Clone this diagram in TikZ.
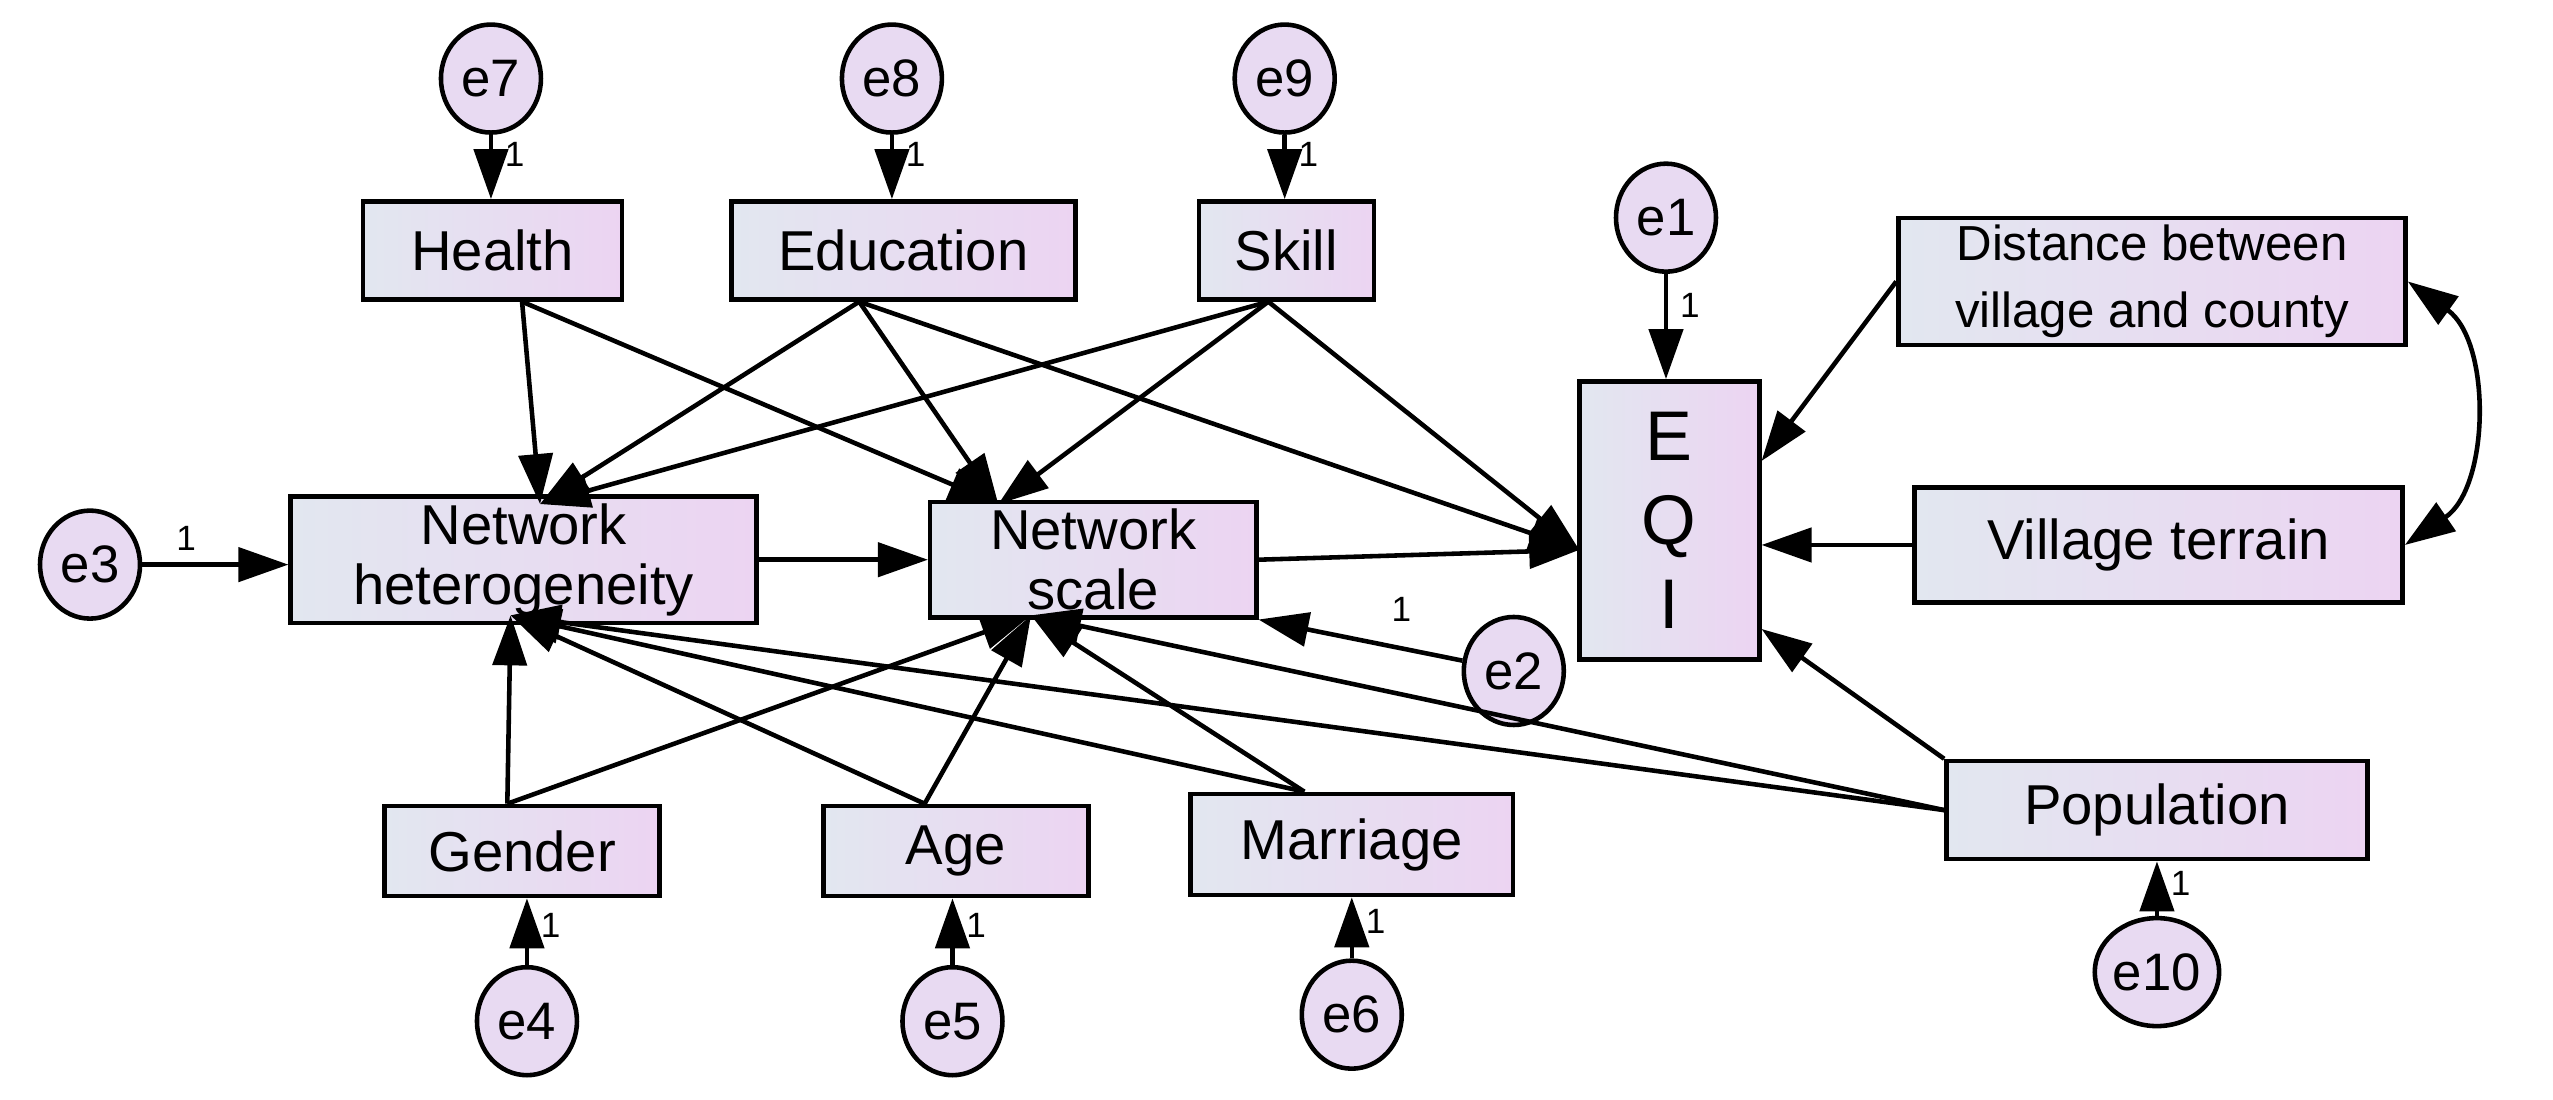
\documentclass[tikz,border=0pt]{standalone}
\usepackage{fontspec}
\setmainfont{Liberation Sans}
\usetikzlibrary{shapes.geometric, arrows.meta}
\definecolor{boxleft}{RGB}{226,231,240}
\definecolor{boxright}{RGB}{236,212,242}
\definecolor{errfill}{RGB}{232,218,242}
\tikzset{
  var/.style={draw, line width=1.3pt, left color=boxleft, right color=boxright,
    font=\fontsize{16}{18}\selectfont, align=center, inner sep=2pt},
  err/.style={ellipse, draw, line width=1.3pt, fill=errfill, minimum width=1.0cm,
    minimum height=1.08cm, inner sep=0pt, font=\fontsize{15}{17}\selectfont},
  path/.style={line width=1.3pt, -{Triangle[length=5mm,width=3.4mm]}},
  one/.style={font=\fontsize{10}{12}\selectfont}
}
\begin{document}
\begin{tikzpicture}[x=0.16365mm, y=-0.16365mm]
    \useasboundingbox (0,0) rectangle (1560,672);

    % Observed variables
    \node[var, minimum width=2.59cm, minimum height=0.98cm] (health) at (301,153) {Health};
    \node[var, minimum width=3.44cm, minimum height=0.98cm] (edu) at (552,153) {Education};
    \node[var, minimum width=1.75cm, minimum height=0.98cm] (skill) at (786,153) {Skill};
    \node[var, minimum width=5.07cm, minimum height=1.26cm, font=\fontsize{14}{19}\selectfont] (dist) at (1315,172) {Distance between\\village and county};
    \node[var, minimum width=1.8cm, minimum height=2.78cm, font=\fontsize{20}{24}\selectfont] (eqi) at (1020,318) {E\\Q\\I};
    \node[var, minimum width=4.66cm, minimum height=1.10cm, font=\fontsize{16}{17}\selectfont] (nh) at (320,342) {Network\\heterogeneity};
    \node[var, minimum width=3.26cm, minimum height=1.10cm, font=\fontsize{16}{17}\selectfont] (ns) at (668,342) {Network\\scale};
    \node[var, minimum width=4.88cm, minimum height=1.15cm] (vil) at (1319,333) {Village terrain};
    \node[var, minimum width=2.75cm, minimum height=0.90cm] (gender) at (319,520) {Gender};
    \node[var, minimum width=2.65cm, minimum height=0.90cm] (age) at (584,520) {Age};
    \node[var, minimum width=3.22cm, minimum height=1.01cm] (marr) at (826,516) {Marriage};
    \node[var, minimum width=4.21cm, minimum height=0.98cm] (pop) at (1318,495) {Population};

    % Error terms
    \node[err] (e7) at (300,48) {e7};
    \node[err] (e8) at (545,48) {e8};
    \node[err] (e9) at (785,48) {e9};
    \node[err] (e1) at (1018,133) {e1};
    \node[err] (e3) at (55,345) {e3};
    \node[err] (e2) at (925,410) {e2};
    \node[err] (e4) at (322,624) {e4};
    \node[err] (e5) at (582,624) {e5};
    \node[err] (e6) at (826,620) {e6};
    \node[err] (e10) at (1318,594) {e10};

    % Arrow ends on the boxes
    \coordinate (nhtop) at (330,308);
    \coordinate (nstop) at (610,308);
    \coordinate (nhbot) at (312,376);
    \coordinate (nsbot) at (630,376);
    \coordinate (eqiin) at (965,336);

    % Error paths
    \draw[path] (e7) -- node[one, right, pos=0.3] {1} (e7 |- health.north);
    \draw[path] (e8) -- node[one, right, pos=0.3] {1} (e8 |- edu.north);
    \draw[path] (e9) -- node[one, right, pos=0.3] {1} (e9 |- skill.north);
    \draw[path] (e1) -- node[one, right, pos=0.3] {1} (e1 |- eqi.north);
    \draw[path] (e3) -- node[one, above, pos=0.3] {1} (nh.west |- e3);
    \draw[path] (e2) -- node[one, above right=2pt, pos=0.45] {1} (ns.south east);
    \draw[path] (e4) -- node[one, right, pos=0.6] {1} (e4 |- gender.south);
    \draw[path] (e5) -- node[one, right, pos=0.6] {1} (e5 |- age.south);
    \draw[path] (e6) -- node[one, right, pos=0.6] {1} (e6 |- marr.south);
    \draw[path] (e10) -- node[one, right, pos=0.6] {1} (e10 |- pop.south);

    % Structural paths
    \foreach \src/\sx in {health/18, edu/-27, skill/-11} {
        \draw[path] ([xshift=\sx*0.16365mm]\src.south) -- (nhtop);
        \draw[path] ([xshift=\sx*0.16365mm]\src.south) -- (nstop);
    }
    \foreach \src/\sx in {gender/-9, age/-19, marr/-29} {
        \draw[path] ([xshift=\sx*0.16365mm]\src.north) -- (nhbot);
        \draw[path] ([xshift=\sx*0.16365mm]\src.north) -- (nsbot);
    }
    \draw[path] (pop.west) -- (nhbot);
    \draw[path] (pop.west) -- (nsbot);
    \draw[path] (nh) -- (ns);
    \draw[path] ([xshift=-27*0.16365mm]edu.south) -- (eqiin);
    \draw[path] ([xshift=-11*0.16365mm]skill.south) -- (eqiin);
    \draw[path] (ns.east) -- (eqiin);
    \draw[path] (dist.west) -- ([yshift=-50*0.16365mm]eqi.north east);
    \draw[path] (vil.west) -- (vil.west -| eqi.east);
    \draw[path] (pop.north west) -- ([yshift=20*0.16365mm]eqi.south east);

    % Covariance
    \draw[line width=1.3pt, {Triangle[length=5mm,width=3.4mm]}-{Triangle[length=5mm,width=3.4mm]}]
        (dist.east) to[bend left=55] (vil.east);
\end{tikzpicture}
\end{document}
